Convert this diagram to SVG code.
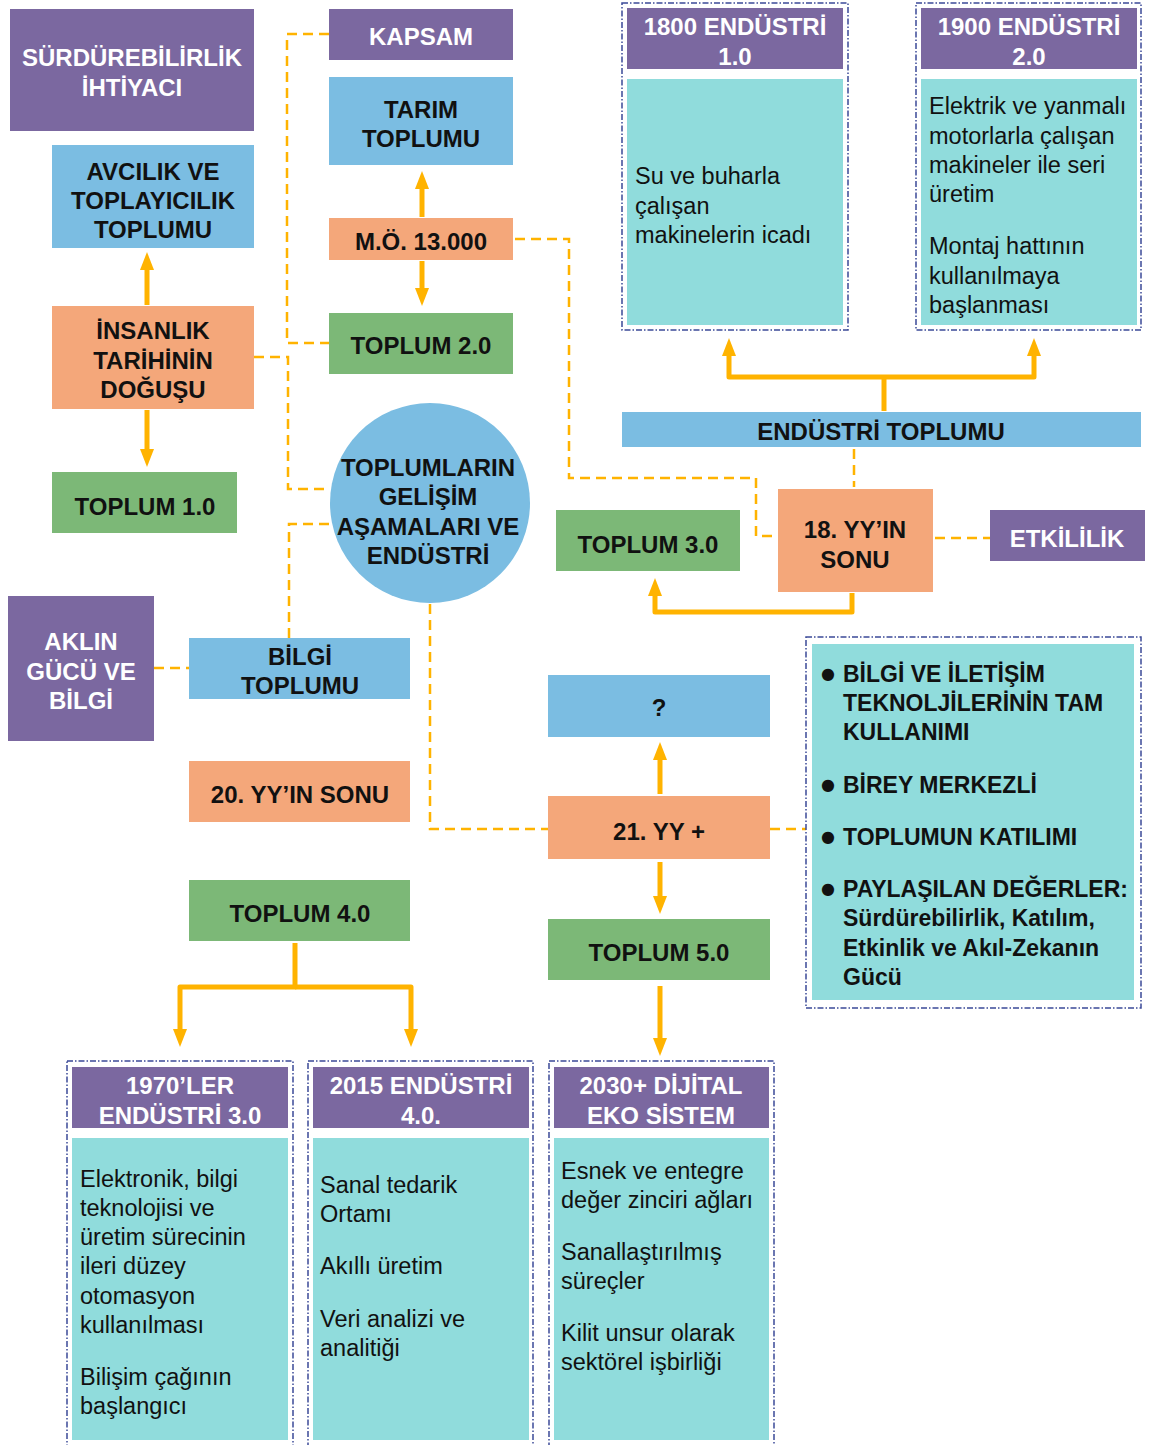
<svg xmlns="http://www.w3.org/2000/svg" width="1152" height="1445" viewBox="0 0 1152 1445">
<defs>
<marker id="ah" markerUnits="userSpaceOnUse" markerWidth="18" markerHeight="14" refX="2" refY="7" orient="auto">
<path d="M0,0 L18,7 L0,14 z" fill="#ffb300"/>
</marker>
<style>
text{font-family:"Liberation Sans",Arial,Helvetica,sans-serif;font-size:23.5px;}
.b{font-weight:bold;text-anchor:middle;fill:#111;font-size:24px;}
.w{font-weight:bold;text-anchor:middle;fill:#fff;font-size:24px;}
.r{fill:#111;}
.bl{font-weight:bold;fill:#111;font-size:23px;}
.dot{fill:#111;font-size:16px;font-family:"DejaVu Sans",sans-serif;}
.pu{fill:#7b68a0;}
.bu{fill:#7bbde2;}
.or{fill:#f4a77a;}
.gr{fill:#7cb877;}
.te{fill:#90dcdc;}
.frame{fill:none;stroke:#3b4a98;stroke-width:1.5;stroke-dasharray:6 2 1.5 2;}
.arr{fill:none;stroke:#ffb300;stroke-width:5;stroke-linejoin:round;}
.dash{fill:none;stroke:#ffb300;stroke-width:2.5;stroke-dasharray:10 6;}
</style>
</defs>
<rect width="1152" height="1445" fill="#fff"/>

<g id="connectors">
<path class="dash" d="M329,34 H287 V343 H329"/>
<path class="dash" d="M254,357 H288 V489 H329"/>
<path class="dash" d="M329,524 H289 V638"/>
<path class="dash" d="M154,668 H189"/>
<path class="dash" d="M430,604 V829 H548"/>
<path class="dash" d="M770,829 H806"/>
<path class="dash" d="M515,239 H569 V478 H756 V536 H778"/>
<path class="dash" d="M854,449 V487"/>
<path class="dash" d="M935,538 H990"/>
<path class="arr" d="M147,305 V268" marker-end="url(#ah)"/>
<path class="arr" d="M147,410 V451" marker-end="url(#ah)"/>
<path class="arr" d="M422,217 V187" marker-end="url(#ah)"/>
<path class="arr" d="M422,261 V290" marker-end="url(#ah)"/>
<path class="arr" d="M884,411 V377"/>
<path class="arr" d="M884,377 H729 V354" marker-end="url(#ah)"/>
<path class="arr" d="M884,377 H1034 V354" marker-end="url(#ah)"/>
<path class="arr" d="M852,593 V612 H655 V594" marker-end="url(#ah)"/>
<path class="arr" d="M660,794 V758" marker-end="url(#ah)"/>
<path class="arr" d="M660,862 V898" marker-end="url(#ah)"/>
<path class="arr" d="M660,986 V1040" marker-end="url(#ah)"/>
<path class="arr" d="M295,943 V987 H180 V1031" marker-end="url(#ah)"/>
<path class="arr" d="M295,987 H411 V1031" marker-end="url(#ah)"/>
</g>

<g id="surdurebilirlik">
<rect class="pu" x="10" y="9" width="244" height="122"/>
<text class="w" x="132" y="66">SÜRDÜREBİLİRLİK</text>
<text class="w" x="132" y="96">İHTİYACI</text>
</g>
<g id="avcilik">
<rect class="bu" x="52" y="145" width="202" height="103"/>
<text class="b" x="153" y="180">AVCILIK VE</text>
<text class="b" x="153" y="209">TOPLAYICILIK</text>
<text class="b" x="153" y="238">TOPLUMU</text>
</g>
<g id="insanlik">
<rect class="or" x="52" y="306" width="202" height="103"/>
<text class="b" x="153" y="339">İNSANLIK</text>
<text class="b" x="153" y="369">TARİHİNİN</text>
<text class="b" x="153" y="398">DOĞUŞU</text>
</g>
<g id="toplum1">
<rect class="gr" x="52" y="472" width="185" height="61"/>
<text class="b" x="145" y="515">TOPLUM 1.0</text>
</g>
<g id="kapsam">
<rect class="pu" x="329" y="9" width="184" height="51"/>
<text class="w" x="421" y="45">KAPSAM</text>
</g>
<g id="tarim">
<rect class="bu" x="329" y="77" width="184" height="88"/>
<text class="b" x="421" y="118">TARIM</text>
<text class="b" x="421" y="147">TOPLUMU</text>
</g>
<g id="mo13000">
<rect class="or" x="329" y="218" width="184" height="42"/>
<text class="b" x="421" y="250">M.Ö. 13.000</text>
</g>
<g id="toplum2">
<rect class="gr" x="329" y="313" width="184" height="61"/>
<text class="b" x="421" y="354">TOPLUM 2.0</text>
</g>
<g id="merkez">
<circle cx="430" cy="503" r="100" fill="#7bbde2"/>
<text class="b" x="428" y="476">TOPLUMLARIN</text>
<text class="b" x="428" y="505">GELİŞİM</text>
<text class="b" x="428" y="535">AŞAMALARI VE</text>
<text class="b" x="428" y="564">ENDÜSTRİ</text>
</g>
<g id="endustri1">
<rect class="frame" x="622" y="3" width="226" height="327"/>
<rect class="pu" x="627" y="8" width="216" height="61"/>
<text class="w" x="735" y="35">1800 ENDÜSTRİ</text>
<text class="w" x="735" y="65">1.0</text>
<rect class="te" x="627" y="79" width="216" height="246"/>
<text class="r" x="635" y="184">Su ve buharla</text>
<text class="r" x="635" y="214">çalışan</text>
<text class="r" x="635" y="243">makinelerin icadı</text>
</g>
<g id="endustri2">
<rect class="frame" x="916" y="3" width="225" height="327"/>
<rect class="pu" x="921" y="8" width="216" height="61"/>
<text class="w" x="1029" y="35">1900 ENDÜSTRİ</text>
<text class="w" x="1029" y="65">2.0</text>
<rect class="te" x="921" y="79" width="216" height="246"/>
<text class="r" x="929" y="114">Elektrik ve yanmalı</text>
<text class="r" x="929" y="144">motorlarla çalışan</text>
<text class="r" x="929" y="173">makineler ile seri</text>
<text class="r" x="929" y="202">üretim</text>
<text class="r" x="929" y="254">Montaj hattının</text>
<text class="r" x="929" y="284">kullanılmaya</text>
<text class="r" x="929" y="313">başlanması</text>
</g>
<g id="endustri-toplumu">
<rect class="bu" x="622" y="412" width="519" height="35"/>
<text class="b" x="881" y="440">ENDÜSTRİ TOPLUMU</text>
</g>
<g id="toplum3">
<rect class="gr" x="556" y="510" width="184" height="61"/>
<text class="b" x="648" y="553">TOPLUM 3.0</text>
</g>
<g id="yy18">
<rect class="or" x="778" y="489" width="155" height="103"/>
<text class="b" x="855" y="538">18. YY’IN</text>
<text class="b" x="855" y="568">SONU</text>
</g>
<g id="etkililik">
<rect class="pu" x="990" y="510" width="155" height="51"/>
<text class="w" x="1067" y="547">ETKİLİLİK</text>
</g>
<g id="aklin">
<rect class="pu" x="8" y="596" width="146" height="145"/>
<text class="w" x="81" y="650">AKLIN</text>
<text class="w" x="81" y="680">GÜCÜ VE</text>
<text class="w" x="81" y="709">BİLGİ</text>
</g>
<g id="bilgi">
<rect class="bu" x="189" y="638" width="221" height="61"/>
<text class="b" x="300" y="665">BİLGİ</text>
<text class="b" x="300" y="694">TOPLUMU</text>
</g>
<g id="yy20">
<rect class="or" x="189" y="761" width="221" height="61"/>
<text class="b" x="300" y="803">20. YY’IN SONU</text>
</g>
<g id="toplum4">
<rect class="gr" x="189" y="880" width="221" height="61"/>
<text class="b" x="300" y="922">TOPLUM 4.0</text>
</g>
<g id="soru">
<rect class="bu" x="548" y="675" width="222" height="62"/>
<text class="b" x="659" y="716">?</text>
</g>
<g id="yy21">
<rect class="or" x="548" y="796" width="222" height="63"/>
<text class="b" x="659" y="840">21. YY +</text>
</g>
<g id="toplum5">
<rect class="gr" x="548" y="919" width="222" height="61"/>
<text class="b" x="659" y="961">TOPLUM 5.0</text>
</g>
<g id="ozellikler">
<rect class="frame" x="806" y="637" width="335" height="371"/>
<rect class="te" x="812" y="644" width="322" height="356"/>
<text class="dot" x="821" y="679">●</text>
<text class="bl" x="843" y="682">BİLGİ VE İLETİŞİM</text>
<text class="bl" x="843" y="711">TEKNOLJİLERİNİN TAM</text>
<text class="bl" x="843" y="740">KULLANIMI</text>
<text class="dot" x="821" y="790">●</text>
<text class="bl" x="843" y="793">BİREY MERKEZLİ</text>
<text class="dot" x="821" y="842">●</text>
<text class="bl" x="843" y="845">TOPLUMUN KATILIMI</text>
<text class="dot" x="821" y="894">●</text>
<text class="bl" x="843" y="897">PAYLAŞILAN DEĞERLER:</text>
<text class="bl" x="843" y="926">Sürdürebilirlik, Katılım,</text>
<text class="bl" x="843" y="956">Etkinlik ve Akıl-Zekanın</text>
<text class="bl" x="843" y="985">Gücü</text>
</g>
<g id="endustri3">
<rect class="frame" x="67" y="1061" width="226" height="400"/>
<rect class="pu" x="72" y="1067" width="216" height="61"/>
<text class="w" x="180" y="1094">1970’LER</text>
<text class="w" x="180" y="1124">ENDÜSTRİ 3.0</text>
<rect class="te" x="72" y="1138" width="216" height="302"/>
<text class="r" x="80" y="1187">Elektronik, bilgi</text>
<text class="r" x="80" y="1216">teknolojisi ve</text>
<text class="r" x="80" y="1245">üretim sürecinin</text>
<text class="r" x="80" y="1274">ileri düzey</text>
<text class="r" x="80" y="1304">otomasyon</text>
<text class="r" x="80" y="1333">kullanılması</text>
<text class="r" x="80" y="1385">Bilişim çağının</text>
<text class="r" x="80" y="1414">başlangıcı</text>
</g>
<g id="endustri4">
<rect class="frame" x="308" y="1061" width="225" height="400"/>
<rect class="pu" x="313" y="1067" width="216" height="61"/>
<text class="w" x="421" y="1094">2015 ENDÜSTRİ</text>
<text class="w" x="421" y="1124">4.0.</text>
<rect class="te" x="313" y="1138" width="216" height="302"/>
<text class="r" x="320" y="1193">Sanal tedarik</text>
<text class="r" x="320" y="1222">Ortamı</text>
<text class="r" x="320" y="1274">Akıllı üretim</text>
<text class="r" x="320" y="1327">Veri analizi ve</text>
<text class="r" x="320" y="1356">analitiği</text>
</g>
<g id="dijital">
<rect class="frame" x="549" y="1061" width="225" height="400"/>
<rect class="pu" x="554" y="1067" width="215" height="61"/>
<text class="w" x="661" y="1094">2030+ DİJİTAL</text>
<text class="w" x="661" y="1124">EKO SİSTEM</text>
<rect class="te" x="554" y="1138" width="215" height="302"/>
<text class="r" x="561" y="1179">Esnek ve entegre</text>
<text class="r" x="561" y="1208">değer zinciri ağları</text>
<text class="r" x="561" y="1260">Sanallaştırılmış</text>
<text class="r" x="561" y="1289">süreçler</text>
<text class="r" x="561" y="1341">Kilit unsur olarak</text>
<text class="r" x="561" y="1370">sektörel işbirliği</text>
</g>
</svg>
